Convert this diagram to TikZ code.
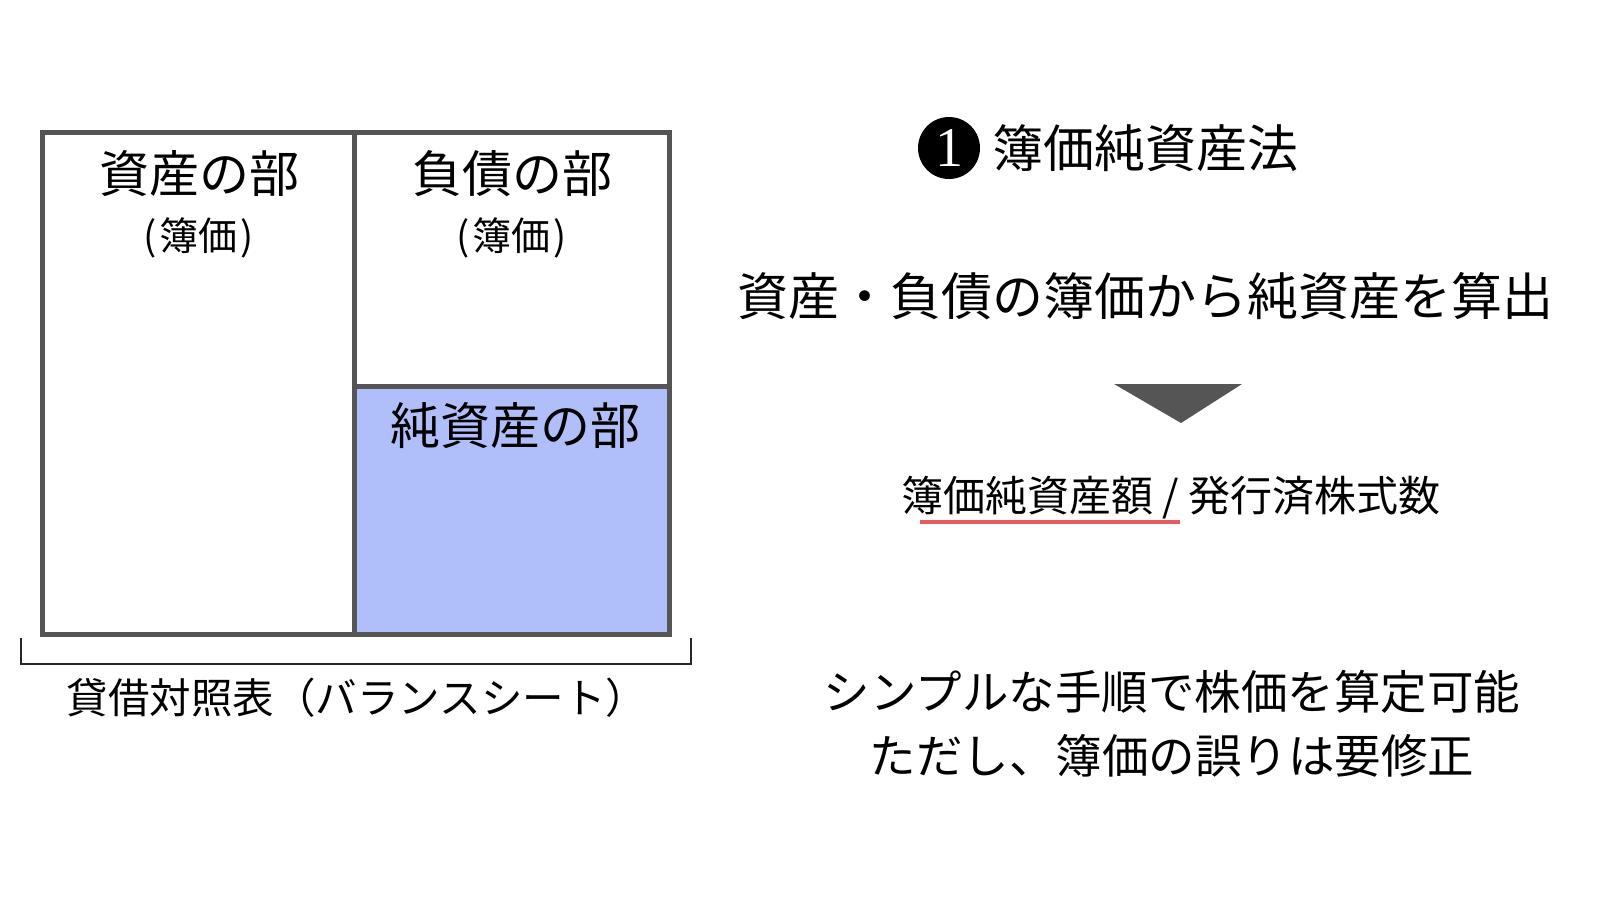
\documentclass[tikz,border=0pt]{standalone}
\usepackage{fontspec}
\setmainfont{Noto Sans CJK JP}
\newfontfamily\serifone{Liberation Serif}
\definecolor{framegray}{HTML}{555555}
\definecolor{netblue}{HTML}{B0BEFA}
\definecolor{ulred}{HTML}{E85A5F}
\begin{document}
\begin{tikzpicture}[x=1pt,y=-1pt,
  frame/.style={draw=framegray, line width=5pt},
  big/.style={inner sep=0pt, font=\fontsize{50}{60}\selectfont},
  small/.style={inner sep=0pt, font=\fontsize{39}{46}\selectfont},
  mid/.style={inner sep=0pt, font=\fontsize{42}{50}\selectfont},
  body/.style={inner sep=0pt, font=\fontsize{46.5}{56}\selectfont}]
\useasboundingbox (0,0) rectangle (1600,900);
% balance sheet
\fill[netblue] (354,386) rectangle (669,634);
\draw[frame] (42,132) rectangle (669,634);
\draw[frame] (354,132) -- (354,634);
\draw[frame] (354,386) -- (669,386);
\node[big] (assets) at (199,174) {資産の部};
\node[small] (assetsbv) at (199,238) {(\kern3pt簿価\kern3pt)};
\node[big] (liab) at (512,174) {負債の部};
\node[small] (liabbv) at (512,238) {(\kern3pt簿価\kern3pt)};
\node[big] (net) at (515,426) {純資産の部};
% bracket
\draw[black!85, line width=2pt] (21,638) -- (21,664) -- (691,664) -- (691,638);
\node[inner sep=0pt, font=\fontsize{41.5}{50}\selectfont] (bs) at (357,698) {貸借対照表（バランスシート）};
% right side
\node[circle, fill=black, minimum size=62pt, inner sep=0pt, text=white,
  font=\serifone\fontsize{56}{56}\selectfont] (num) at (949,148) {1};
\node[big, font=\fontsize{51}{60}\selectfont] (title) at (1145,148) {簿価純資産法};
\node[big, font=\fontsize{51}{60}\selectfont] (calc) at (1145,296) {資産・負債の簿価から純資産を算出};
\fill[framegray] (1114,384) -- (1242,384) -- (1181,423) -- cycle;
\node[mid] (formula) at (1171,498) {簿価純資産額 / 発行済株式数};
\draw[ulred, line width=4.5pt] (920,522) -- (1180,522);
\node[body] (l1) at (1172,692) {シンプルな手順で株価を算定可能};
\node[body] (l2) at (1172,756) {ただし、簿価の誤りは要修正};
\end{tikzpicture}
\end{document}
